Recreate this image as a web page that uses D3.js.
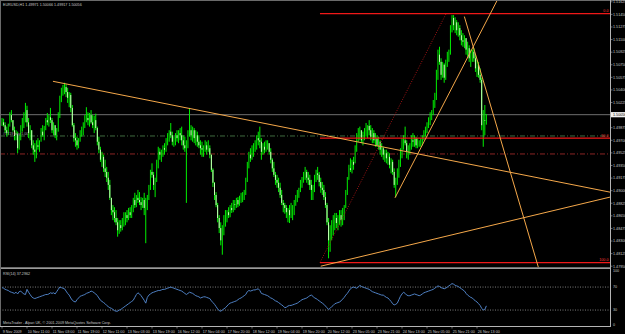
<!DOCTYPE html>
<html>
<head>
<meta charset="utf-8">
<script src="https://cdn.jsdelivr.net/npm/d3@7"></script>
<style>
  html, body { margin: 0; padding: 0; background: #000; overflow: hidden; }
  svg { display: block; }
  text { font-family: "Liberation Sans", Arial, sans-serif; font-size: 3.7px; fill: #c8c8c8; }
</style>
</head>
<body>
<div class="chart"></div>
<script>
var titleText = "EURUSD,H1  1.49971 1.50066 1.49917 1.50056";
var rsiText = "RSI(14) 37.2962";
var footText = "MetaTrader - Alpari UK, \u00a9 2001-2009 MetaQuotes Software Corp.";
var orderText = "#7719 buy 1.00";

var firstOpen = 1.4993;
var hi = [
  1.5001,1.5000,1.4995,1.4989,1.4993,1.5009,1.5012,1.4998,1.4989,1.4984,
  1.4982,1.4977,1.4991,1.5001,1.5009,1.5022,1.5018,1.5001,1.4991,1.4984,
  1.4970,1.4966,1.4970,1.4973,1.4970,1.4987,1.4991,1.4990,1.5001,1.5008,
  1.5005,1.5015,1.5001,1.4995,1.4991,1.4987,1.5009,1.5032,1.5043,1.5047,
  1.5050,1.5048,1.5043,1.5037,1.5036,1.5019,1.4994,1.4980,1.4975,1.4973,
  1.4984,1.4989,1.4995,1.5005,1.5016,1.5009,1.5008,1.5012,1.5005,1.5004,
  1.5007,1.4989,1.4975,1.4961,1.4954,1.4950,1.4943,1.4933,1.4926,1.4915,
  1.4890,1.4880,1.4877,1.4873,1.4862,1.4859,1.4859,1.4862,1.4870,1.4870,
  1.4873,1.4876,1.4877,1.4880,1.4890,1.4897,1.4894,1.4901,1.4898,1.4891,
  1.4890,1.4897,1.4890,1.4894,1.4908,1.4929,1.4938,1.4926,1.4918,1.4943,
  1.4961,1.4959,1.4957,1.4963,1.4966,1.4973,1.4980,1.4984,1.4994,1.4982,
  1.4975,1.4980,1.4984,1.4984,1.4987,1.4989,1.4977,1.4975,1.4970,1.4984,
  1.5015,1.4991,1.4989,1.4987,1.4984,1.4982,1.4977,1.4970,1.4968,1.4963,
  1.4970,1.4968,1.4970,1.4963,1.4950,1.4931,1.4912,1.4898,1.4883,1.4866,
  1.4856,1.4852,1.4866,1.4873,1.4873,1.4877,1.4880,1.4883,1.4887,1.4887,
  1.4890,1.4891,1.4893,1.4897,1.4898,1.4901,1.4918,1.4940,1.4954,1.4959,
  1.4963,1.4966,1.4970,1.4977,1.4982,1.4989,1.4973,1.4966,1.4968,1.4970,
  1.4970,1.4966,1.4959,1.4945,1.4940,1.4926,1.4922,1.4918,1.4911,1.4901,
  1.4887,1.4883,1.4880,1.4876,1.4880,1.4883,1.4880,1.4887,1.4894,1.4901,
  1.4904,1.4915,1.4919,1.4926,1.4933,1.4929,1.4926,1.4922,1.4915,1.4908,
  1.4922,1.4929,1.4933,1.4926,1.4918,1.4912,1.4908,1.4898,1.4883,1.4862,
  1.4852,1.4859,1.4866,1.4869,1.4869,1.4866,1.4873,1.4873,1.4876,1.4880,
  1.4901,1.4919,1.4936,1.4945,1.4943,1.4947,1.4963,1.4980,1.4987,1.4989,
  1.4984,1.4982,1.4987,1.4994,1.4991,1.4998,1.4991,1.4987,1.4984,1.4980,
  1.4977,1.4975,1.4970,1.4966,1.4961,1.4957,1.4957,1.4954,1.4952,1.4945,
  1.4943,1.4931,1.4918,1.4931,1.4943,1.4959,1.4973,1.4977,1.4989,1.4970,
  1.4963,1.4966,1.4977,1.4980,1.4977,1.4975,1.4973,1.4970,1.4973,1.4977,
  1.4984,1.4989,1.4995,1.5002,1.5009,1.5012,1.5026,1.5036,1.5068,1.5096,
  1.5100,1.5084,1.5079,1.5077,1.5082,1.5093,1.5096,1.5130,1.5144,1.5144,
  1.5141,1.5137,1.5134,1.5130,1.5123,1.5119,1.5116,1.5112,1.5107,1.5102,
  1.5096,1.5096,1.5098,1.5089,1.5082,1.5079,1.5070,1.5057,1.5012,1.5019,
  1.50066
];
var lo = [
  1.4990,1.4989,1.4980,1.4975,1.4977,1.4989,1.4995,1.4982,1.4970,1.4970,
  1.4952,1.4957,1.4970,1.4982,1.4987,1.4995,1.4989,1.4973,1.4970,1.4959,
  1.4950,1.4940,1.4945,1.4957,1.4954,1.4968,1.4975,1.4970,1.4984,1.4991,
  1.4989,1.4994,1.4980,1.4977,1.4973,1.4970,1.4982,1.5001,1.5023,1.5032,
  1.5034,1.5030,1.5022,1.5016,1.5009,1.4989,1.4968,1.4961,1.4957,1.4959,
  1.4968,1.4975,1.4977,1.4987,1.4995,1.4991,1.4989,1.4993,1.4987,1.4980,
  1.4984,1.4963,1.4952,1.4940,1.4933,1.4926,1.4919,1.4912,1.4901,1.4887,
  1.4866,1.4859,1.4856,1.4852,1.4836,1.4840,1.4843,1.4845,1.4850,1.4852,
  1.4856,1.4859,1.4862,1.4862,1.4870,1.4876,1.4877,1.4883,1.4880,1.4873,
  1.4876,1.4866,1.4827,1.4873,1.4887,1.4901,1.4918,1.4901,1.4891,1.4912,
  1.4931,1.4943,1.4940,1.4947,1.4950,1.4954,1.4963,1.4968,1.4973,1.4963,
  1.4961,1.4963,1.4968,1.4966,1.4970,1.4963,1.4957,1.4954,1.4883,1.4959,
  1.4975,1.4970,1.4968,1.4966,1.4963,1.4961,1.4959,1.4950,1.4947,1.4947,
  1.4954,1.4950,1.4954,1.4945,1.4926,1.4905,1.4887,1.4877,1.4856,1.4841,
  1.4824,1.4811,1.4838,1.4850,1.4856,1.4862,1.4863,1.4869,1.4870,1.4873,
  1.4876,1.4877,1.4879,1.4883,1.4884,1.4887,1.4894,1.4912,1.4931,1.4940,
  1.4943,1.4947,1.4954,1.4957,1.4963,1.4959,1.4943,1.4950,1.4952,1.4954,
  1.4957,1.4950,1.4938,1.4926,1.4919,1.4908,1.4904,1.4898,1.4890,1.4880,
  1.4870,1.4868,1.4862,1.4856,1.4855,1.4862,1.4859,1.4866,1.4879,1.4884,
  1.4890,1.4898,1.4904,1.4911,1.4915,1.4911,1.4908,1.4901,1.4887,1.4887,
  1.4898,1.4912,1.4915,1.4906,1.4897,1.4894,1.4887,1.4876,1.4852,1.4806,
  1.4815,1.4831,1.4838,1.4845,1.4848,1.4845,1.4852,1.4850,1.4852,1.4859,
  1.4876,1.4894,1.4915,1.4926,1.4924,1.4929,1.4938,1.4954,1.4968,1.4970,
  1.4966,1.4963,1.4970,1.4975,1.4973,1.4977,1.4970,1.4966,1.4966,1.4961,
  1.4961,1.4957,1.4950,1.4947,1.4943,1.4940,1.4938,1.4936,1.4931,1.4924,
  1.4922,1.4904,1.4891,1.4908,1.4918,1.4933,1.4945,1.4957,1.4963,1.4945,
  1.4943,1.4950,1.4957,1.4961,1.4961,1.4959,1.4959,1.4961,1.4961,1.4963,
  1.4970,1.4975,1.4980,1.4987,1.4991,1.4998,1.5005,1.5015,1.5026,1.5054,
  1.5075,1.5054,1.5057,1.5050,1.5054,1.5072,1.5079,1.5089,1.5120,1.5123,
  1.5119,1.5116,1.5114,1.5109,1.5102,1.5100,1.5098,1.5089,1.5086,1.5079,
  1.5072,1.5079,1.5079,1.5065,1.5058,1.5057,1.5050,1.4984,1.4961,1.4977,
  1.49917
];
var cl = [
  1.4995,1.4991,1.4984,1.4980,1.4990,1.5005,1.4998,1.4984,1.4976,1.4979,
  1.4959,1.4973,1.4987,1.4995,1.5005,1.5012,1.4995,1.4980,1.4984,1.4963,
  1.4957,1.4954,1.4963,1.4961,1.4968,1.4982,1.4977,1.4987,1.4998,1.4995,
  1.5002,1.4998,1.4984,1.4991,1.4977,1.4984,1.5005,1.5026,1.5037,1.5040,
  1.5044,1.5037,1.5029,1.5033,1.5015,1.4991,1.4973,1.4970,1.4963,1.4970,
  1.4980,1.4984,1.4991,1.5001,1.5001,1.4998,1.5005,1.4995,1.4991,1.4998,
  1.4987,1.4968,1.4957,1.4943,1.4947,1.4931,1.4926,1.4918,1.4908,1.4890,
  1.4873,1.4870,1.4862,1.4856,1.4845,1.4852,1.4848,1.4856,1.4859,1.4866,
  1.4862,1.4870,1.4866,1.4876,1.4887,1.4880,1.4890,1.4887,1.4884,1.4880,
  1.4887,1.4876,1.4880,1.4890,1.4904,1.4926,1.4922,1.4908,1.4915,1.4936,
  1.4954,1.4950,1.4952,1.4959,1.4957,1.4970,1.4975,1.4982,1.4977,1.4968,
  1.4970,1.4977,1.4973,1.4980,1.4977,1.4970,1.4963,1.4959,1.4963,1.4982,
  1.4984,1.4977,1.4984,1.4973,1.4977,1.4968,1.4963,1.4959,1.4957,1.4961,
  1.4963,1.4957,1.4959,1.4950,1.4929,1.4911,1.4894,1.4880,1.4862,1.4848,
  1.4831,1.4845,1.4859,1.4866,1.4870,1.4866,1.4876,1.4873,1.4881,1.4880,
  1.4887,1.4881,1.4887,1.4890,1.4893,1.4897,1.4915,1.4936,1.4950,1.4945,
  1.4957,1.4959,1.4963,1.4973,1.4970,1.4968,1.4954,1.4961,1.4957,1.4963,
  1.4966,1.4954,1.4943,1.4931,1.4922,1.4915,1.4911,1.4904,1.4894,1.4883,
  1.4880,1.4876,1.4870,1.4873,1.4866,1.4873,1.4876,1.4883,1.4890,1.4898,
  1.4901,1.4911,1.4915,1.4922,1.4926,1.4918,1.4915,1.4908,1.4901,1.4904,
  1.4918,1.4924,1.4922,1.4912,1.4904,1.4901,1.4891,1.4880,1.4856,1.4831,
  1.4845,1.4852,1.4856,1.4862,1.4855,1.4859,1.4866,1.4859,1.4870,1.4876,
  1.4898,1.4915,1.4931,1.4929,1.4940,1.4936,1.4959,1.4973,1.4977,1.4984,
  1.4970,1.4977,1.4984,1.4987,1.4990,1.4984,1.4975,1.4980,1.4970,1.4973,
  1.4963,1.4968,1.4957,1.4959,1.4950,1.4952,1.4945,1.4947,1.4936,1.4940,
  1.4926,1.4908,1.4915,1.4926,1.4936,1.4954,1.4963,1.4970,1.4966,1.4954,
  1.4957,1.4959,1.4970,1.4968,1.4973,1.4963,1.4966,1.4968,1.4970,1.4975,
  1.4980,1.4984,1.4991,1.4998,1.5005,1.5009,1.5022,1.5030,1.5061,1.5089,
  1.5079,1.5061,1.5075,1.5057,1.5077,1.5089,1.5091,1.5123,1.5140,1.5130,
  1.5134,1.5123,1.5126,1.5116,1.5109,1.5107,1.5112,1.5096,1.5098,1.5084,
  1.5089,1.5093,1.5084,1.5070,1.5075,1.5061,1.5054,1.4991,1.4998,1.49971,
  1.50056
];
var rsi = [
  69,68,66,65,64,62,61,60,59,61,
  58,62,63,60,58,57,66,61,57,53,
  51,50,51,52,53,54,55,56,57,57,
  58,60,59,60,58,62,66,70,69,68,
  67,63,59,56,51,47,45,44,48,51,
  54,55,56,57,59,60,61,63,62,60,
  58,55,51,47,45,43,41,38,36,34,
  33,31,29,28,28,30,31,33,35,37,
  39,41,43,45,47,52,57,60,58,55,
  51,47,42,52,56,58,60,61,62,63,
  64,64,65,66,66,67,68,69,70,69,
  68,67,66,65,64,63,61,59,57,59,
  61,60,59,57,55,54,53,51,52,53,
  53,52,51,50,46,43,40,36,32,29,
  28,30,32,34,37,40,42,43,44,45,
  46,48,50,51,53,55,57,62,64,63,
  64,65,65,66,67,64,59,58,57,56,
  55,53,51,50,48,46,45,43,41,39,
  37,34,35,37,38,38,39,40,41,42,
  44,46,48,49,50,51,53,55,56,54,
  51,50,48,46,44,42,40,37,34,31,
  33,36,38,41,42,43,44,46,49,52,
  56,59,63,67,69,70,69,68,70,73,
  71,70,69,68,67,66,64,62,61,60,
  59,58,57,56,56,54,52,51,48,45,
  41,39,40,42,48,54,58,61,59,56,
  55,55,56,57,58,57,56,55,56,58,
  60,61,62,63,64,65,66,68,70,72,
  71,69,68,67,68,70,72,74,76,75,
  73,72,71,69,67,65,63,59,56,54,
  52,51,48,46,44,41,38,33,30,31,
  37.2962
];

var priceTicks = [1.51625,1.51450,1.51275,1.51100,1.50925,1.50750,1.50575,1.50400,1.50225,1.50050,1.49875,
                  1.49700,1.49525,1.49350,1.49175,1.49000,1.48825,1.48650,1.48475,1.48300,1.48125,1.47950];
var rsiTicks = [100, 70, 30, 0];
var rsiLevels = [70, 30];
var dateBars = [0,16,32,48,64,80,96,112,128,144,160,176,192,208,224,240,256,272,288,304];
var dateLabels = ["9 Nov 2009","10 Nov 11:00","11 Nov 03:00","11 Nov 19:00","12 Nov 11:00","13 Nov 03:00",
                  "13 Nov 19:00","16 Nov 12:00","17 Nov 04:00","17 Nov 20:00","18 Nov 12:00","19 Nov 04:00",
                  "19 Nov 20:00","20 Nov 12:00","23 Nov 05:00","23 Nov 21:00","24 Nov 13:00","25 Nov 05:00",
                  "25 Nov 21:00","26 Nov 13:00"];

var bidPrice = 1.50056;
var orderPrice = 1.4976;
var stopPrice = 1.4951;

// trend lines: [bar, price] anchors, drawn as rays to the right
var trendStart = [[32.6, 1.5052], [204, 1.4795], [251.5, 1.4890], [295.9, 1.5142]];
var trendThrough = [[389, 1.4898], [389, 1.4891], [273.9, 1.4984], [343.2, 1.4794]];

// fibonacci retracement anchors (low -> high) and levels
var fibLow = [203.5, 1.4800];
var fibHigh = [284.2, 1.5146];
var fibLevels = [0, 50, 100];

var width = 625,
    height = 334,
    plotRight = 610.5,
    mainBottom = 267.3;

var svg = d3.select(".chart").append("svg")
    .attr("width", width)
    .attr("height", height);

var x = d3.scaleLinear().domain([0, 384]).range([2, 602]);
var y = d3.scaleLinear().domain([1.47925, 1.5165]).range([268, 0]);
var yr = d3.scaleLinear().domain([0, 100]).range([327.3, 269.8]);

svg.append("defs").append("clipPath").attr("id", "mainClip")
  .append("rect").attr("x", 0).attr("y", 0).attr("width", plotRight).attr("height", mainBottom);
svg.select("defs").append("clipPath").attr("id", "rsiClip")
  .append("rect").attr("x", 0).attr("y", 269).attr("width", plotRight).attr("height", 57);

var main = svg.append("g").attr("clip-path", "url(#mainClip)");

var bars = cl.map(function(c, i) {
  return { i: i, o: i ? cl[i - 1] : firstOpen, h: hi[i], l: lo[i], c: c };
});

// horizontal lines behind candles
main.append("line")
    .attr("x1", 0).attr("x2", plotRight)
    .attr("y1", y(bidPrice)).attr("y2", y(bidPrice))
    .attr("stroke", "#6f6f6f").attr("stroke-width", 1);

main.append("line")
    .attr("x1", 0).attr("x2", plotRight)
    .attr("y1", y(orderPrice)).attr("y2", y(orderPrice))
    .attr("stroke", "#3f6a3f").attr("stroke-width", 1)
    .attr("stroke-dasharray", "5,2,1,2");

main.append("line")
    .attr("x1", 0).attr("x2", plotRight)
    .attr("y1", y(stopPrice)).attr("y2", y(stopPrice))
    .attr("stroke", "#8a2424").attr("stroke-width", 1)
    .attr("stroke-dasharray", "5,2,1,2");

// candles
main.append("g")
    .selectAll("line")
    .data(bars)
    .enter()
    .append("line")
    .attr("x1", function(d) { return x(d.i); })
    .attr("x2", function(d) { return x(d.i); })
    .attr("y1", function(d) { return y(d.h); })
    .attr("y2", function(d) { return y(d.l); })
    .attr("stroke", "#00f000")
    .attr("stroke-width", 1);

main.append("g")
    .selectAll("rect")
    .data(bars.filter(function(d) { return d.c < d.o; }))
    .enter()
    .append("rect")
    .attr("x", function(d) { return x(d.i) - 0.5; })
    .attr("width", 1)
    .attr("y", function(d) { return y(d.o); })
    .attr("height", function(d) { return Math.max(0.6, y(d.c) - y(d.o)); })
    .attr("fill", "#c8ffb8");

// fibonacci
var fibPrice = function(lv) { return fibHigh[1] - (fibHigh[1] - fibLow[1]) * lv / 100; };

main.append("line")
    .attr("x1", x(fibLow[0])).attr("y1", y(fibLow[1]))
    .attr("x2", x(fibHigh[0])).attr("y2", y(fibHigh[1]))
    .attr("stroke", "#a01414").attr("stroke-width", 1)
    .attr("stroke-dasharray", "1,1.5");

main.append("g")
    .selectAll("line")
    .data(fibLevels)
    .enter()
    .append("line")
    .attr("x1", x(Math.min(fibLow[0], fibHigh[0])))
    .attr("x2", plotRight)
    .attr("y1", function(d) { return y(fibPrice(d)); })
    .attr("y2", function(d) { return y(fibPrice(d)); })
    .attr("stroke", "#f01818")
    .attr("stroke-width", 1.3);

main.append("g")
    .selectAll("text")
    .data(fibLevels)
    .enter()
    .append("text")
    .attr("x", plotRight - 2)
    .attr("y", function(d) { return y(fibPrice(d)) - 1.3; })
    .attr("text-anchor", "end")
    .style("fill", "#ff3a3a")
    .text(function(d) { return d3.format(".1f")(d); });

// trend lines
main.append("g")
    .selectAll("line")
    .data(trendStart)
    .enter()
    .append("line")
    .attr("x1", function(d) { return x(d[0]); })
    .attr("y1", function(d) { return y(d[1]); })
    .attr("x2", function(d, i) { return x(400); })
    .attr("y2", function(d, i) {
      var b = trendThrough[i];
      return y(d[1] + (b[1] - d[1]) * (400 - d[0]) / (b[0] - d[0]));
    })
    .attr("stroke", "#f5a84a")
    .attr("stroke-width", 1);

main.append("text")
    .attr("x", 3)
    .attr("y", y(orderPrice) - 1.2)
    .style("fill", "#a0a0a0")
    .text(orderText);

// rsi pane
var sub = svg.append("g").attr("clip-path", "url(#rsiClip)");

sub.append("g")
    .selectAll("line")
    .data(rsiLevels)
    .enter()
    .append("line")
    .attr("x1", 0).attr("x2", plotRight)
    .attr("y1", function(d) { return yr(d); })
    .attr("y2", function(d) { return yr(d); })
    .attr("stroke", "#9a9a9a")
    .attr("stroke-width", 0.8)
    .attr("stroke-dasharray", "1,1.5");

sub.append("path")
    .datum(rsi)
    .attr("fill", "none")
    .attr("stroke", "#4f80c4")
    .attr("stroke-width", 1)
    .attr("d", d3.line()
      .x(function(d, i) { return x(i); })
      .y(function(d) { return yr(d); }));

// frame and separators
svg.append("rect").attr("x", 0).attr("y", mainBottom).attr("width", plotRight + 0.5).attr("height", 1.7).attr("fill", "#9a9a9a");
svg.append("line").attr("x1", 0).attr("x2", width).attr("y1", 0.5).attr("y2", 0.5).attr("stroke", "#6a6a6a");
svg.append("line").attr("x1", 0.5).attr("x2", 0.5).attr("y1", 0).attr("y2", 327).attr("stroke", "#6a6a6a");
svg.append("line").attr("x1", plotRight).attr("x2", plotRight).attr("y1", 0).attr("y2", 327).attr("stroke", "#b4b4b4");
svg.append("line").attr("x1", 0).attr("x2", plotRight).attr("y1", 326.5).attr("y2", 326.5).attr("stroke", "#b4b4b4");

// price axis
var py = svg.append("g");
py.selectAll("line")
    .data(priceTicks)
    .enter()
    .append("line")
    .attr("x1", plotRight).attr("x2", plotRight + 2)
    .attr("y1", function(d) { return y(d); })
    .attr("y2", function(d) { return y(d); })
    .attr("stroke", "#b4b4b4").attr("stroke-width", 0.6);
py.selectAll("text")
    .data(priceTicks)
    .enter()
    .append("text")
    .attr("x", plotRight + 2.5)
    .attr("y", function(d) { return y(d) + 1.3; })
    .text(function(d) { return d3.format(".5f")(d); });

svg.append("rect")
    .attr("x", plotRight + 0.5).attr("y", y(bidPrice) - 2.6)
    .attr("width", 14).attr("height", 5.2)
    .attr("fill", "#f2f2f2");
svg.append("text")
    .attr("x", plotRight + 2.5).attr("y", y(bidPrice) + 1.3)
    .style("fill", "#000")
    .text(d3.format(".5f")(bidPrice));

// rsi axis
svg.append("g")
    .selectAll("text")
    .data(rsiTicks)
    .enter()
    .append("text")
    .attr("x", plotRight + 2.5)
    .attr("y", function(d) { return Math.min(Math.max(yr(d), 271), 324.5) + 1.3; })
    .text(function(d) { return d; });

// time axis
var tx = svg.append("g");
tx.selectAll("line")
    .data(dateBars)
    .enter()
    .append("line")
    .attr("x1", function(d) { return x(d); })
    .attr("x2", function(d) { return x(d); })
    .attr("y1", 326.5).attr("y2", 328.5)
    .attr("stroke", "#b4b4b4").attr("stroke-width", 0.6);
tx.selectAll("text")
    .data(dateBars)
    .enter()
    .append("text")
    .attr("x", function(d) { return x(d) + 0.8; })
    .attr("y", 332.6)
    .text(function(d, i) { return dateLabels[i]; });

// captions
svg.append("text").attr("x", 3).attr("y", 6).text(titleText);
svg.append("text").attr("x", 3).attr("y", 274.5).text(rsiText);
svg.append("text").attr("x", 3).attr("y", 324.3).text(footText);
</script>
</body>
</html>
